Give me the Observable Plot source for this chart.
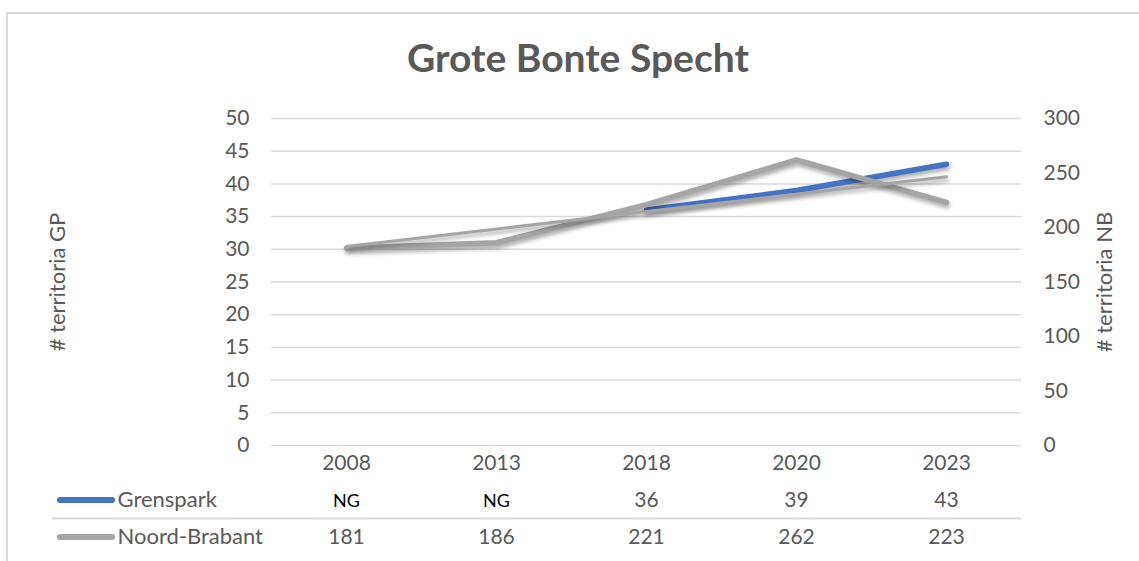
<!DOCTYPE html>
<html>
<head>
<meta charset="utf-8">
<script src="https://cdn.jsdelivr.net/npm/d3@7"></script>
<script src="https://cdn.jsdelivr.net/npm/@observablehq/plot@0.6"></script>
<style>
  html, body { margin: 0; padding: 0; background: #fff; }
  #wrap { position: relative; width: 1139px; height: 561px; overflow: hidden; font-family: Lato, "Open Sans", sans-serif; }
  #border { position: absolute; left: 6px; top: 12px; width: 1200px; height: 600px; border: 2px solid #d9d9d9; box-sizing: border-box; }
  #title { position: absolute; left: 0; top: 34px; width: 1156px; text-align: center; font-size: 39px; font-weight: 700; color: #595959; line-height: 46px; }
  #chart, #table { position: absolute; left: 0; }
  #chart { top: 0; }
  #table { top: 481px; }
  svg { overflow: visible; }
</style>
</head>
<body>
<div id="wrap">
  <div id="border"></div>
  <div id="title">Grote Bonte Specht</div>
  <div id="chart"></div>
  <div id="table"></div>
</div>
<script>
// ---- data ----
const years = ["2008", "2013", "2018", "2020", "2023"];
const grenspark = [null, null, 36, 39, 43];          // NG = niet geteld
const noordBrabant = [181, 186, 221, 262, 223];
const leftTicks = [0, 5, 10, 15, 20, 25, 30, 35, 40, 45, 50];
const rightTicks = [0, 50, 100, 150, 200, 250, 300];
const seriesNames = ["Grenspark", "Noord-Brabant"];
const seriesColors = ["#4472C4", "#A5A5A5"];
const ratio = 300 / 50; // secondary axis max / primary axis max

const data = years.map((year, i) => ({i, year, gp: grenspark[i], nb: noordBrabant[i]}));

const textColor = "#595959";
const tickSize = 21;
const shadow = "drop-shadow(1px 3px 2px rgba(0,0,0,0.35))";

const chart = Plot.plot({
  width: 1139,
  height: 481,
  marginTop: 118,
  marginBottom: 36,
  marginLeft: 271,
  marginRight: 118,
  x: {domain: [-0.5, 4.5], axis: null},
  y: {domain: [0, 50], axis: null},
  style: {fontFamily: "Lato, 'Open Sans', sans-serif", fontSize: tickSize + "px", color: textColor, background: "transparent"},
  marks: [
    Plot.gridY(leftTicks, {stroke: "#d9d9d9", strokeOpacity: 1, strokeWidth: 1.5}),
    Plot.axisY(leftTicks, {anchor: "left", tickSize: 0, tickPadding: 22, label: null, fontSize: tickSize, fill: textColor}),
    Plot.axisY(rightTicks, {y: d => d / ratio, anchor: "right", tickSize: 0, tickPadding: 22, label: null, tickFormat: d => String(d), fontSize: tickSize, fill: textColor}),
    Plot.axisX(d3.range(years.length), {anchor: "bottom", tickSize: 0, tickPadding: 10, label: null, tickFormat: i => years[i], fontSize: tickSize, fill: textColor}),
    Plot.line(data, {x: "i", y: "gp", stroke: seriesColors[0], strokeWidth: 5.5, strokeLinecap: "round", strokeLinejoin: "round", imageFilter: shadow}),
    Plot.line(data, {x: "i", y: d => d.nb / ratio, stroke: seriesColors[1], strokeWidth: 5.5, strokeLinecap: "round", strokeLinejoin: "round", imageFilter: shadow}),
    Plot.linearRegressionY(data, {x: "i", y: d => d.nb / ratio, stroke: seriesColors[1], strokeWidth: 3, ci: 0, strokeLinecap: "round", imageFilter: shadow}),
    Plot.text(["# territoria GP"], {frameAnchor: "left", dx: -214, rotate: -90, textAnchor: "middle", fontSize: 22, fill: textColor}),
    Plot.text(["# territoria NB"], {frameAnchor: "right", dx: 83, rotate: -90, textAnchor: "middle", fontSize: 22, fill: textColor})
  ]
});
document.getElementById("chart").append(chart);

// ---- data table below the chart ----
const cells = years.flatMap((year, i) => [
  {i, row: 0, v: grenspark[i]},
  {i, row: 1, v: noordBrabant[i]}
]);

const table = Plot.plot({
  width: 1139,
  height: 80,
  marginTop: 0,
  marginBottom: 6,
  marginLeft: 52,
  marginRight: 118,
  x: {domain: [-0.5, 4.5], range: [271, 1021], axis: null},
  y: {domain: [-0.5, 1.5], range: [0, 74], axis: null},
  color: {domain: seriesNames, range: seriesColors},
  style: {fontFamily: "Lato, 'Open Sans', sans-serif", fontSize: tickSize + "px", color: textColor, background: "transparent"},
  marks: [
    Plot.ruleY(seriesNames.slice(1), {y: d => seriesNames.indexOf(d) - 0.5, stroke: "#d9d9d9", strokeWidth: 2}),
    Plot.ruleY(seriesNames, {y: (d, i) => i, stroke: d => d, strokeWidth: 6, strokeLinecap: "round", insetLeft: 8, insetRight: 909}),
    Plot.text(seriesNames, {y: (d, i) => i, frameAnchor: "left", dx: 65, textAnchor: "start", text: d => d, fontSize: 22, fill: textColor}),
    Plot.text(cells, {filter: d => d.v != null, x: "i", y: "row", text: d => String(d.v), fontSize: tickSize, fill: textColor}),
    Plot.text(cells, {filter: d => d.v == null, x: "i", y: "row", text: () => "NG", fontSize: 18, fill: "#000", dy: 1})
  ]
});
document.getElementById("table").append(table);
</script>
</body>
</html>
